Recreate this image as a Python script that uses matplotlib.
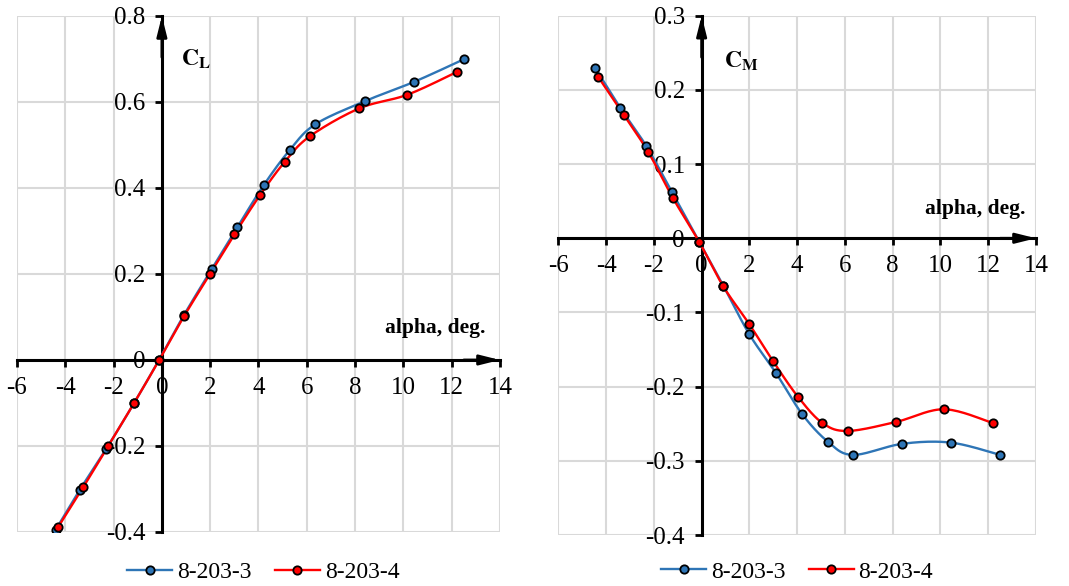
import numpy as np
import matplotlib
matplotlib.use('Agg')
import matplotlib.pyplot as plt

plt.rcParams['font.family'] = ['Liberation Serif', 'DejaVu Serif']
plt.rcParams['mathtext.fontset'] = 'stix'
plt.rcParams['axes.unicode_minus'] = False

# ------------------------------
# Data
# ------------------------------
# Lift coefficient, 8-203-3
cl3_alpha = [-4.40, -3.40, -2.32, -1.15, -0.11, 0.92, 2.06, 3.13, 4.21, 5.29, 6.35, 8.41, 10.45, 12.49]
cl3_val = [-0.395, -0.302, -0.208, -0.100, 0.001, 0.105, 0.211, 0.309, 0.406, 0.488, 0.548, 0.602, 0.647, 0.699]
# Lift coefficient, 8-203-4
cl4_alpha = [-4.29, -3.26, -2.22, -1.15, -0.11, 0.92, 1.98, 3.00, 4.07, 5.09, 6.12, 8.17, 10.17, 12.22]
cl4_val = [-0.388, -0.296, -0.200, -0.100, 0.000, 0.102, 0.199, 0.292, 0.384, 0.461, 0.520, 0.585, 0.617, 0.670]

# Pitching moment coefficient, 8-203-3
cm3_alpha = [-4.46, -3.41, -2.32, -1.25, -0.10, 0.91, 1.99, 3.12, 4.21, 5.28, 6.33, 8.41, 10.45, 12.50]
cm3_val = [0.2295, 0.176, 0.1244, 0.0628, -0.005, -0.064, -0.129, -0.182, -0.237, -0.274, -0.292, -0.277, -0.2755, -0.292]
# Pitching moment coefficient, 8-203-4
cm4_alpha = [-4.32, -3.25, -2.23, -1.21, -0.10, 0.91, 1.99, 3.00, 4.03, 5.06, 6.12, 8.14, 10.15, 12.19]
cm4_val = [0.217, 0.166, 0.116, 0.0547, -0.005, -0.065, -0.1155, -0.166, -0.2135, -0.249, -0.2597, -0.2476, -0.2305, -0.249]

x_ticks = [-6, -4, -2, 0, 2, 4, 6, 8, 10, 12, 14]
cl_ticks = [-0.4, -0.2, 0, 0.2, 0.4, 0.6, 0.8]
cm_ticks = [-0.4, -0.3, -0.2, -0.1, 0, 0.1, 0.2, 0.3]

BLUE = '#2E75B6'
RED = '#FF0000'


def smooth(x, y, n=20):
    """Catmull-Rom curve through the points (like Excel's smoothed line)"""
    x = np.asarray(x, float)
    y = np.asarray(y, float)
    px = np.concatenate([[x[0]], x, [x[-1]]])
    py = np.concatenate([[y[0]], y, [y[-1]]])
    t = np.linspace(0, 1, n)
    xs, ys = [], []
    for i in range(1, len(px) - 2):
        p0, p1, p2, p3 = px[i - 1], px[i], px[i + 1], px[i + 2]
        q0, q1, q2, q3 = py[i - 1], py[i], py[i + 1], py[i + 2]
        # cubic bezier control points
        c1x, c1y = p1 + (p2 - p0) / 6, q1 + (q2 - q0) / 6
        c2x, c2y = p2 - (p3 - p1) / 6, q2 - (q3 - q1) / 6
        b = [(1 - t) ** 3, 3 * (1 - t) ** 2 * t, 3 * (1 - t) * t ** 2, t ** 3]
        xs.append(b[0] * p1 + b[1] * c1x + b[2] * c2x + b[3] * p2)
        ys.append(b[0] * q1 + b[1] * c1y + b[2] * c2y + b[3] * q2)
    return np.concatenate(xs), np.concatenate(ys)


def draw_panel(ax, series, yticks, ylab, ylab_pos, xlab_pos, leg_anchor):
    ymin, ymax = yticks[0], yticks[-1]
    ax.set_xlim(-6, 14)
    ax.set_ylim(ymin, ymax)
    ax.set_xticks(x_ticks)
    ax.set_yticks(yticks)
    ax.set_xticklabels([str(v) for v in x_ticks])
    ax.set_yticklabels([('%g' % v) for v in yticks])
    ax.grid(True, color='#d9d9d9', linewidth=1.5)
    ax.set_axisbelow(True)

    for s in ['top', 'right']:
        ax.spines[s].set_visible(False)
    ax.spines['left'].set_position(('data', 0))
    ax.spines['bottom'].set_position(('data', 0))
    for s in ['left', 'bottom']:
        ax.spines[s].set_linewidth(2.2)
        ax.spines[s].set_zorder(2.6)
    ax.tick_params(axis='both', direction='out', length=5, width=2,
                   labelsize=18, pad=7)

    # arrow heads on axes
    ax.annotate('', xy=(0, ymax), xytext=(0, ymax - 0.08 * (ymax - ymin)),
                arrowprops=dict(arrowstyle='-|>,head_length=1.2,head_width=0.3',
                                color='black', lw=2, shrinkA=0, shrinkB=0),
                annotation_clip=False)
    ax.annotate('', xy=(14, 0), xytext=(12.5, 0),
                arrowprops=dict(arrowstyle='-|>,head_length=1.2,head_width=0.3',
                                color='black', lw=2, shrinkA=0, shrinkB=0),
                annotation_clip=False)

    for xs, ys, color, label in series:
        sx, sy = smooth(xs, ys)
        ax.plot(sx, sy, color=color, linewidth=1.7, zorder=3)
        ax.plot(xs, ys, linestyle='none', marker='o', markersize=6,
                markerfacecolor=color, markeredgecolor='black',
                markeredgewidth=1.3, zorder=4)

    # legend handles
    handles = [plt.Line2D([], [], color=c, linewidth=1.7, marker='o', markersize=6,
                          markerfacecolor=c, markeredgecolor='black', markeredgewidth=1.3)
               for _, _, c, _ in series]
    ax.legend(handles, [s[3] for s in series], loc='center', ncol=2,
              bbox_to_anchor=leg_anchor, frameon=False, fontsize=17,
              handlelength=1.9, handletextpad=0.2, columnspacing=1.0,
              borderpad=0.2)

    ax.text(ylab_pos[0], ylab_pos[1], ylab, fontsize=17, fontweight='bold',
            ha='left', va='center')
    ax.text(xlab_pos[0], xlab_pos[1], 'alpha, deg.', fontsize=15.5,
            fontweight='bold', ha='right', va='center')


fig = plt.figure(figsize=(10.69, 5.86), dpi=100)
ax1 = fig.add_axes([0.0159, 0.0922, 0.4518, 0.8805])
ax2 = fig.add_axes([0.5223, 0.0870, 0.4468, 0.8862])

draw_panel(ax1,
           [(cl3_alpha, cl3_val, BLUE, '8-203-3'), (cl4_alpha, cl4_val, RED, '8-203-4')],
           cl_ticks, r'$\mathbf{C}_\mathbf{L}$', (0.8, 0.70), (13.4, 0.075), (0.51, -0.078))
draw_panel(ax2,
           [(cm3_alpha, cm3_val, BLUE, '8-203-3'), (cm4_alpha, cm4_val, RED, '8-203-4')],
           cm_ticks, r'$\mathbf{C}_\mathbf{M}$', (0.95, 0.238), (13.55, 0.04), (0.50, -0.071))

fig.savefig('out.png', dpi=100)
